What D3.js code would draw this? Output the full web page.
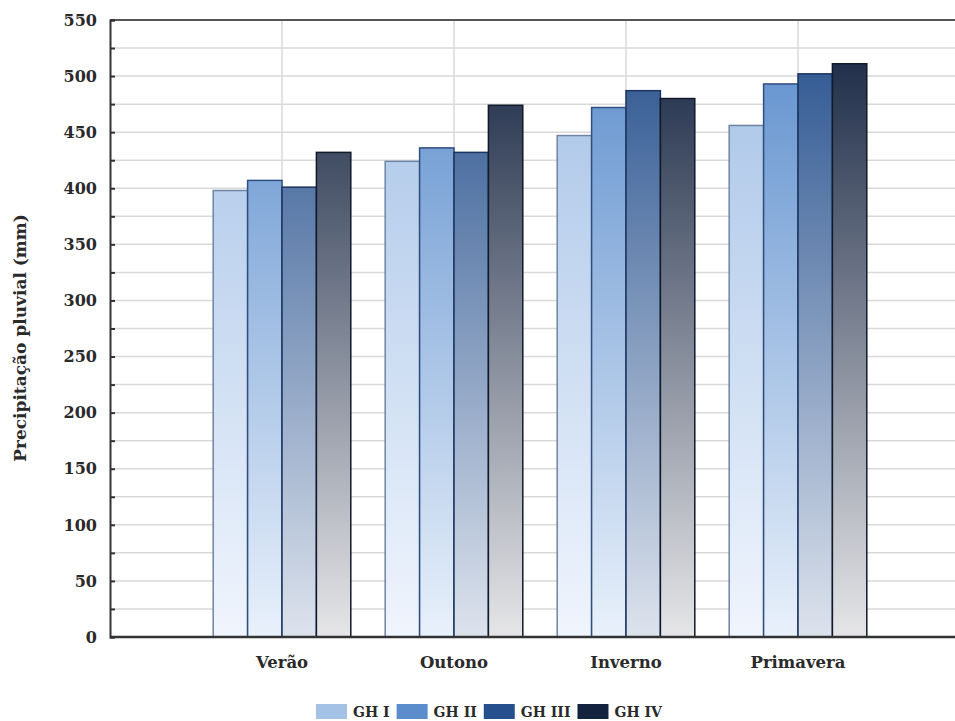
<!DOCTYPE html>
<html>
<head>
<meta charset="utf-8">
<script src="https://cdn.jsdelivr.net/npm/d3@7"></script>
<style>
  html, body { margin: 0; padding: 0; background: #ffffff; }
  svg { display: block; }
  text { font-family: "DejaVu Serif", "Liberation Serif", serif; font-weight: bold; fill: #2a2a2a; }
</style>
</head>
<body>
<svg id="chart" width="955" height="721"></svg>
<script>
// Seasonal rainfall per homogeneous group (mm)
const categories = ["Verão", "Outono", "Inverno", "Primavera"];
const seriesNames = ["GH I", "GH II", "GH III", "GH IV"];
const ghI   = [398, 424, 447, 456];
const ghII  = [407, 436, 472, 493];
const ghIII = [401, 432, 487, 502];
const ghIV  = [432, 474, 480, 511];
const yTickValues = [0, 50, 100, 150, 200, 250, 300, 350, 400, 450, 500, 550];
const yLabel = "Precipitação pluvial (mm)";

const seriesValues = [ghI, ghII, ghIII, ghIV];
const topColors    = ["#a4c1e6", "#5b8dcc", "#26508d", "#13223f"];
const bottomColors = ["#f0f5fd", "#e9f1fb", "#dde3ed", "#e6e6e8"];
const strokeColors = ["#6f84a2", "#2f4f80", "#1d345e", "#111a2a"];

const plotLeft = 110, plotTop = 20, plotBottom = 637, plotRight = 955;

const svg = d3.select("#chart");

const y = d3.scaleLinear().domain([0, 550]).range([plotBottom, plotTop]);
const x = d3.scaleBand().domain(categories).range([196, 884]).padding(0);
const xInner = d3.scaleBand().domain(seriesNames)
  .range([x.bandwidth() * 0.1, x.bandwidth() * 0.9]).padding(0);

// Vertical gradients spanning the full value range
const defs = svg.append("defs");
seriesNames.forEach((s, i) => {
  const g = defs.append("linearGradient")
    .attr("id", "grad" + i)
    .attr("gradientUnits", "userSpaceOnUse")
    .attr("x1", 0).attr("x2", 0)
    .attr("y1", y(550)).attr("y2", y(0));
  g.append("stop").attr("offset", 0).attr("stop-color", topColors[i]);
  g.append("stop").attr("offset", 1).attr("stop-color", bottomColors[i]);
});

// Horizontal gridlines at every 25 mm
const minorTicks = d3.range(25, 550, 25);
svg.append("g").selectAll("line").data(minorTicks).join("line")
  .attr("x1", plotLeft).attr("x2", plotRight)
  .attr("y1", d => y(d)).attr("y2", d => y(d))
  .attr("stroke", "#d9d9d9").attr("stroke-width", 1.5);

// Vertical gridlines at category centres
svg.append("g").selectAll("line").data(categories).join("line")
  .attr("x1", d => x(d) + x.bandwidth() / 2).attr("x2", d => x(d) + x.bandwidth() / 2)
  .attr("y1", plotTop).attr("y2", plotBottom)
  .attr("stroke", "#d9d9d9").attr("stroke-width", 1.5);

// Bars
const groups = svg.append("g").selectAll("g").data(categories).join("g")
  .attr("transform", d => `translate(${x(d)},0)`);
groups.selectAll("rect")
  .data((c, ci) => seriesNames.map((s, si) => ({ s, si, v: seriesValues[si][ci] })))
  .join("rect")
  .attr("x", d => xInner(d.s))
  .attr("width", xInner.bandwidth())
  .attr("y", d => y(d.v))
  .attr("height", d => y(0) - y(d.v))
  .attr("fill", d => `url(#grad${d.si})`)
  .attr("stroke", d => strokeColors[d.si])
  .attr("stroke-width", 1.5);

// Top frame line
svg.append("line")
  .attr("x1", plotLeft).attr("x2", plotRight).attr("y1", plotTop).attr("y2", plotTop)
  .attr("stroke", "#555555").attr("stroke-width", 2);

// Left axis with inward ticks
const yAxis = d3.axisLeft(y).tickValues(d3.range(0, 551, 25)).tickSize(-5).tickFormat("");
const ya = svg.append("g").attr("transform", `translate(${plotLeft},0)`).call(yAxis);
ya.select(".domain").attr("stroke", "#333333").attr("stroke-width", 2);
ya.selectAll(".tick line").attr("stroke", "#333333").attr("stroke-width", 2);

svg.append("g").selectAll("text").data(yTickValues).join("text")
  .attr("x", 97).attr("y", d => y(d))
  .attr("dy", "0.36em")
  .attr("text-anchor", "end")
  .style("font-size", "16px")
  .text(d => d);

// Bottom axis line
const xa = svg.append("g").attr("transform", `translate(0,${plotBottom})`)
  .call(d3.axisBottom(x).tickSize(0).tickFormat(""));
xa.select(".domain").attr("d", `M${plotLeft},0H${plotRight}`).attr("stroke", "#333333").attr("stroke-width", 2.5);

svg.append("g").selectAll("text").data(categories).join("text")
  .attr("x", d => x(d) + x.bandwidth() / 2).attr("y", 668)
  .attr("text-anchor", "middle")
  .style("font-size", "16.5px")
  .text(d => d);

// Y axis title
svg.append("text")
  .attr("transform", "translate(20,338) rotate(-90)")
  .attr("text-anchor", "middle")
  .attr("dy", "0.35em")
  .style("font-size", "17px")
  .text(yLabel);

// Legend
const legend = svg.append("g");
let lx = 316;
seriesNames.forEach((s, i) => {
  legend.append("rect")
    .attr("x", lx).attr("y", 704).attr("width", 31).attr("height", 15)
    .attr("fill", topColors[i]);
  const t = legend.append("text")
    .attr("x", lx + 37).attr("y", 717)
    .style("font-size", "14px")
    .text(s);
  lx += 37 + t.node().getComputedTextLength() + 7;
});
</script>
</body>
</html>
